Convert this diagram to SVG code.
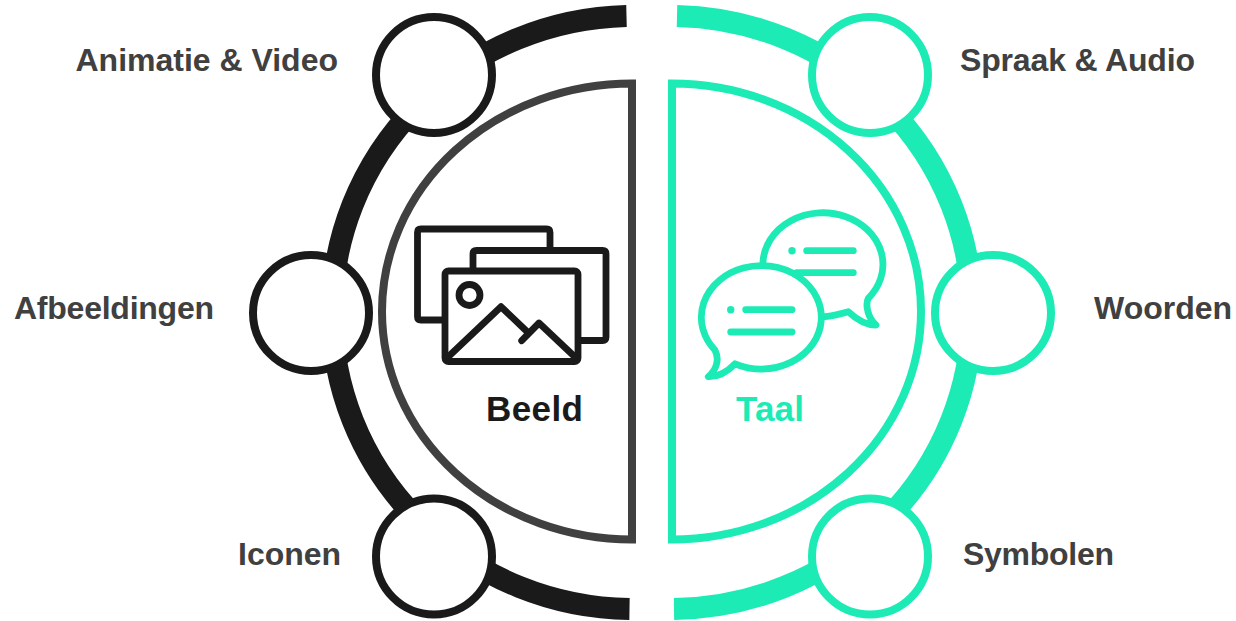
<svg xmlns="http://www.w3.org/2000/svg" width="1236" height="621" viewBox="0 0 1236 621">
<style>
text{font-family:"Liberation Sans",Arial,sans-serif;font-weight:700;font-size:32px;fill:#404040}
.big{font-size:35px}
.arc{fill:none;stroke-width:22}
.k{stroke:#1a1a1a}.t{stroke:#1debb6}
.n{fill:#fff;stroke-width:8}
.half{fill:#fff;stroke-width:8}
.ic{fill:none;stroke-width:6.8;stroke-linecap:round;stroke-linejoin:round}
</style>
<rect width="1236" height="621" fill="#fff"/>
<g id="connectors">
<path class="arc k" d="M626.500 16A302 296.500 0 0 0 332 312.500A302 296.500 0 0 0 629.500 609"/>
<path class="arc t" d="M677 16A302 296.500 0 0 1 972 312.500A302 296.500 0 0 1 674 609"/>
</g>
<g id="beeld">
<path class="half" stroke="#404040" d="M632 83.500A250 228 0 0 0 632 539.500Z"/>
<g class="ic k">
<path d="M550 249V232.500Q550 229 546.500 229H421Q417.500 229 417.500 232.500V316.500Q417.500 320 421 320H443"/>
<path d="M473 270V254Q473 250.500 476.500 250.500H602.500Q606 250.500 606 254V337Q606 340.500 602.500 340.500H580"/>
<rect x="445" y="271" width="133" height="90.500" rx="3.500"/>
<circle cx="469.500" cy="295" r="10.500"/>
<path d="M448 357L501 306.700L528 332.500M521.700 340.700L539 323L575 357"/>
</g>
<text class="big" x="486" y="421" textLength="97" style="fill:#1a1a1a">Beeld</text>
</g>
<g id="taal">
<path class="half t" d="M672 83.500A249 228 0 0 1 672 539.500Z"/>
<g class="ic t">
<path d="M763 262A60 51.700 0 1 1 868.300 298.300C865 305 868 318 876 325C865 325 855 318 848.300 311.700C840 314 832 316 825 316.700"/>
<path d="M735 363.800A60 51.700 0 1 0 715 350.200C720 360 716 370 708.300 376.700C718 377 728 371 735 363.800Z"/>
<path d="M806.700 250.700H853.300M796.700 272.700H853.300M745.700 309.700H792M730.700 332H792"/>
</g>
<circle cx="792" cy="250.700" r="3.700" fill="#1debb6"/>
<circle cx="730.700" cy="309.700" r="3.700" fill="#1debb6"/>
<text class="big" x="736" y="421" textLength="68" style="fill:#1debb6">Taal</text>
</g>
<g id="animatie"><circle class="n k" cx="434" cy="75" r="58"/><text x="75.500" y="71" textLength="262.500">Animatie &amp; Video</text></g>
<g id="afbeeldingen"><circle class="n k" cx="311" cy="313" r="58"/><text x="14" y="319" textLength="200">Afbeeldingen</text></g>
<g id="iconen"><circle class="n k" cx="434" cy="556.500" r="58"/><text x="238" y="565">Iconen</text></g>
<g id="spraak"><circle class="n t" cx="870" cy="75" r="58"/><text x="960" y="71" textLength="235">Spraak &amp; Audio</text></g>
<g id="woorden"><circle class="n t" cx="993" cy="313" r="58"/><text x="1094" y="319">Woorden</text></g>
<g id="symbolen"><circle class="n t" cx="870" cy="556.500" r="58"/><text x="963" y="565" textLength="151">Symbolen</text></g>
</svg>
